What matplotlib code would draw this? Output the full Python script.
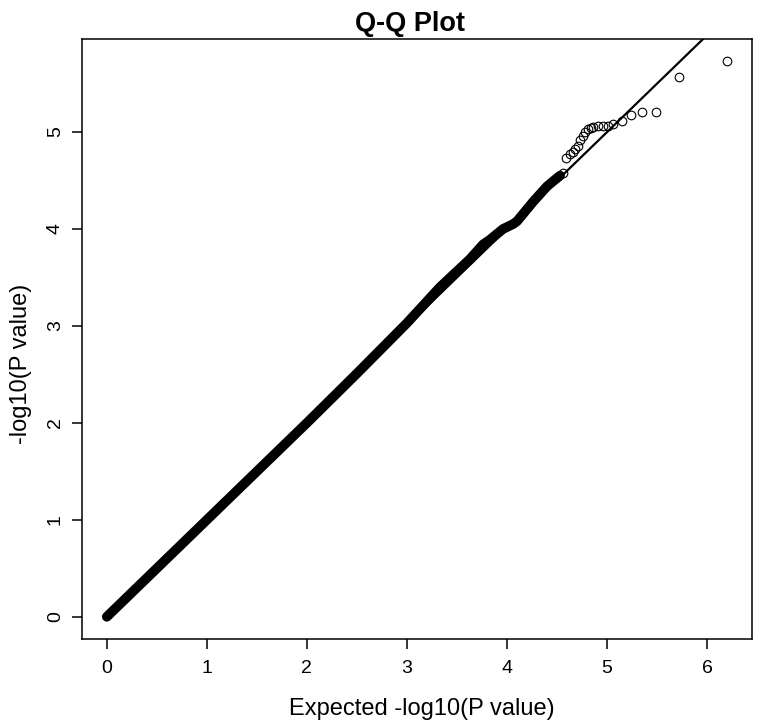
import matplotlib
matplotlib.use("Agg")
import matplotlib.pyplot as plt

plt.rcParams['font.family'] = ['Liberation Sans', 'DejaVu Sans']

bulk_expected = [0.0, 0.5, 1.0, 1.5, 2.0, 2.5, 3.0, 3.33, 3.63, 3.76, 3.83, 3.96, 4.06, 4.10,
                 4.18, 4.26, 4.33, 4.40, 4.47, 4.53]
bulk_observed = [0.0, 0.5, 1.0, 1.5, 2.0, 2.51, 3.03, 3.40, 3.69, 3.84, 3.89, 4.00, 4.05, 4.08,
                 4.18, 4.28, 4.36, 4.44, 4.50, 4.55]

# Sparse upper tail points
tail_expected = [4.56, 4.59, 4.63, 4.66, 4.68, 4.71, 4.73, 4.76, 4.78, 4.81, 4.84, 4.86, 4.91,
                 4.96, 5.01, 5.06, 5.15, 5.24, 5.35, 5.49, 5.72, 6.20]
tail_observed = [4.58, 4.73, 4.77, 4.79, 4.82, 4.86, 4.92, 4.96, 5.00, 5.03, 5.04, 5.05, 5.06,
                 5.06, 5.06, 5.08, 5.11, 5.18, 5.21, 5.21, 5.57, 5.73]

# Reference line y = x, from zero to the largest expected value
ref_start = 0.0
ref_end = max(tail_expected)

x_ticks = [0, 1, 2, 3, 4, 5, 6]
y_ticks = [0, 1, 2, 3, 4, 5]

fig = plt.figure(figsize=(7.62, 7.26), dpi=100)
ax = fig.add_axes([82/762, 87/726, 670/762, 600/726])

ax.plot(bulk_expected, bulk_observed, '-', color='black', lw=7.0,
        solid_capstyle='round', solid_joinstyle='round', zorder=2)
ax.plot(tail_expected, tail_observed, 'o', ms=6.2, mfc='none', mec='black', mew=0.8, zorder=3)
ax.plot([ref_start, ref_end], [ref_start, ref_end], '-', color='black', lw=1.6, zorder=4)

xmin, xmax = 0.0, max(tail_expected)
ymin, ymax = 0.0, max(tail_observed)
dx = (xmax - xmin) * 0.04
dy = (ymax - ymin) * 0.04
ax.set_xlim(xmin - dx, xmax + dx)
ax.set_ylim(ymin - dy, ymax + dy)

ax.set_xticks(x_ticks)
ax.set_yticks(y_ticks)
ax.tick_params(direction='out', length=7, width=1.1, labelsize=14, colors='black')
ax.tick_params(axis='x', pad=8)
ax.tick_params(axis='y', pad=6)
for lab in ax.get_yticklabels():
    lab.set_rotation(90)
    lab.set_va('center')
for s in ax.spines.values():
    s.set_linewidth(1.1)

ax.set_xlabel('Expected -log10(P value)', fontsize=17, labelpad=15)
ax.xaxis.label.set_x(0.5075)
ax.set_ylabel('-log10(P value)', fontsize=17, labelpad=11)
ax.yaxis.label.set_y(0.458)
ax.set_title('Q-Q Plot', fontsize=19.5, fontweight='bold', pad=6, x=0.4896)

fig.savefig('out.png', dpi=100)
